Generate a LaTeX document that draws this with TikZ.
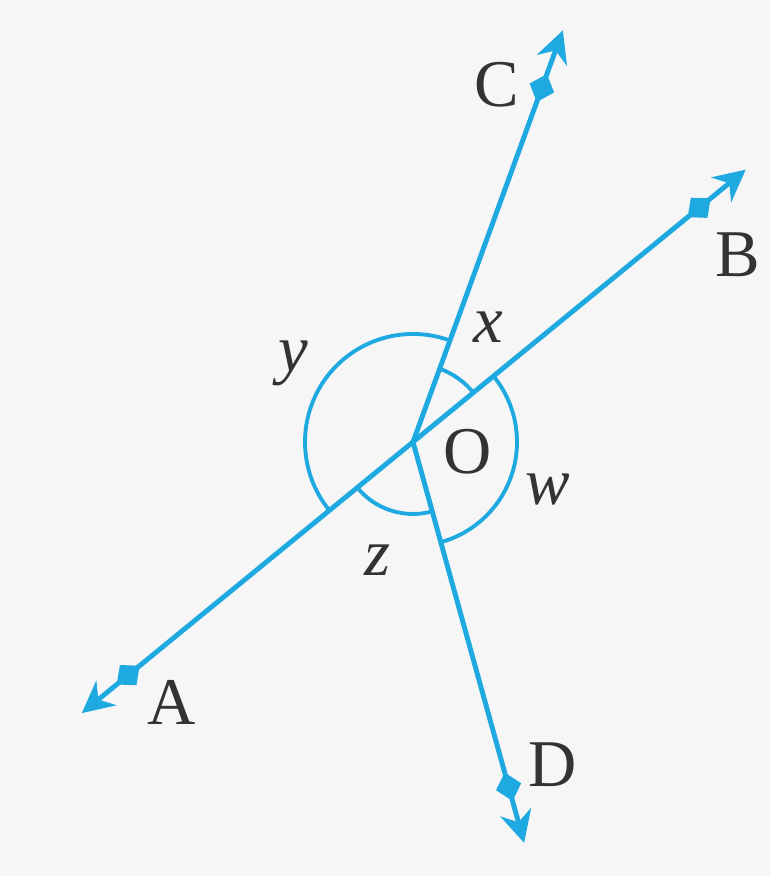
\documentclass[tikz,border=0pt]{standalone}
\usepackage{fontspec}
\setmainfont{Liberation Serif}
\usepackage{xcolor}
\usepackage{tikz}
\usetikzlibrary{arrows.meta, positioning, shapes.geometric}
\definecolor{raycolor}{HTML}{1FA9E1}
\definecolor{paper}{HTML}{F6F6F6}
\definecolor{labelgray}{HTML}{333333}

\begin{document}
\begin{tikzpicture}[
    ray/.style={draw=raycolor, line width=1.4pt, -{Stealth[length=9pt, width=9pt]}},
    tick/.style={diamond, fill=raycolor, inner sep=0pt, minimum width=9pt, minimum height=8pt, sloped, pos=0.86},
    arcline/.style={draw=raycolor, line width=1.1pt},
    lbl/.style={text=labelgray, font=\fontsize{19}{21}\selectfont},
    var/.style={lbl, font=\fontsize{19}{21}\selectfont\itshape},
  ]
  % Background
  \fill[paper] (-4.13,-4.34) rectangle (3.57,4.42);
  \useasboundingbox (-4.13,-4.34) rectangle (3.57,4.42);

  % Points
  \coordinate (O) at (0,0);
  \coordinate (C) at (70:4.38);
  \coordinate (B) at (39.3:4.30);
  \coordinate (A) at (219.3:4.28);
  \coordinate (D) at (-74.5:4.16);

  % Angle arcs
  \draw[arcline] (70:1.08) arc[start angle=70, end angle=219.3, radius=1.08];
  \draw[arcline] (39.3:1.04) arc[start angle=39.3, end angle=-74.5, radius=1.04];
  \draw[arcline] (39.3:0.78) arc[start angle=39.3, end angle=70, radius=0.78];
  \draw[arcline] (219.3:0.72) arc[start angle=219.3, end angle=285.5, radius=0.72];

  % Rays
  \draw[ray] (O) -- node[tick] {} (C);
  \draw[ray] (O) -- node[tick] {} (B);
  \draw[ray] (O) -- node[tick] {} (A);
  \draw[ray] (O) -- node[tick] {} (D);

  % Labels
  \node[lbl] (labC) at (0.84,3.57) {C};
  \node[lbl] (labB) at (3.25,1.87) {B};
  \node[lbl] (labA) at (-2.41,-2.60) {A};
  \node[lbl] (labD) at (1.40,-3.23) {D};
  \node[lbl] (labO) at (0.55,-0.10) {O};
  \node[var] (labx) at (0.75,1.15) {x};
  \node[var] (laby) at (-1.20,0.79) {y};
  \node[var] (labz) at (-0.36,-1.18) {z};
  \node[var] (labw) at (1.35,-0.48) {w};
\end{tikzpicture}
\end{document}
